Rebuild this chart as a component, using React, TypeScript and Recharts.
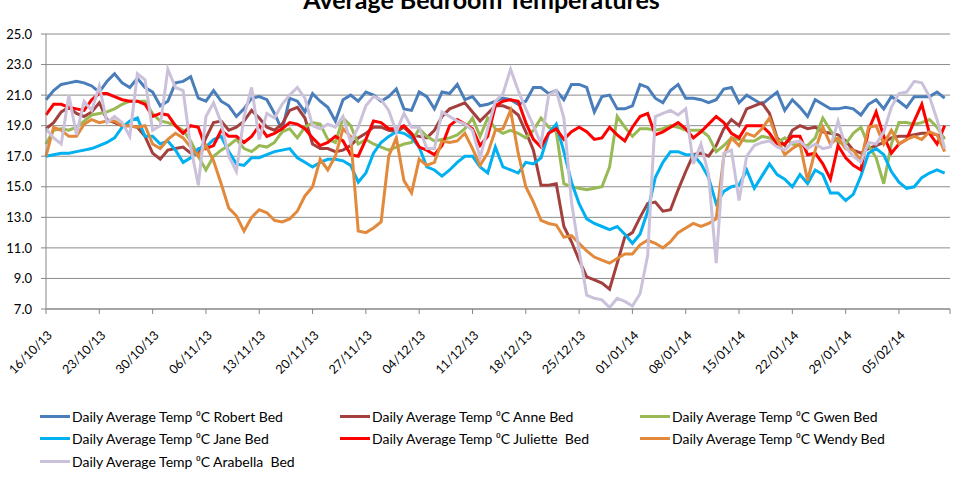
import React from 'react';
import { LineChart, Line, XAxis, YAxis, CartesianGrid } from 'recharts';

// Daily averages, 16/10/13 .. 11/02/14 (one row per day)
const robertBed = [
  20.7, 21.3, 21.7, 21.8, 21.9, 21.8, 21.6, 21.2, 21.9, 22.4, 21.8, 21.5, 22.1, 21.5,
  21.2, 20.3, 20.6, 21.8, 21.9, 22.2, 20.8, 20.6, 21.3, 20.6, 20.3, 19.6, 20.1, 20.8,
  20.9, 20.7, 19.8, 18.7, 20.8, 20.6, 19.9, 21.1, 20.6, 20.2, 19.3, 20.7, 21.0, 20.6,
  21.2, 21.0, 20.6, 20.9, 21.4, 20.1, 20.0, 21.2, 20.9, 20.1, 21.2, 21.1, 21.7, 20.7,
  20.9, 20.3, 20.4, 20.6, 20.8, 20.7, 20.4, 20.6, 21.5, 21.5, 21.1, 21.3, 20.7, 21.7,
  21.7, 21.5, 19.9, 20.9, 21.0, 20.1, 20.1, 20.3, 21.7, 21.5, 20.8, 20.5, 21.3, 21.7,
  20.8, 20.8, 20.7, 20.5, 20.7, 21.4, 21.5, 20.5, 21.0, 20.7, 20.4, 20.8, 21.2, 20.0,
  20.7, 20.2, 19.6, 20.7, 20.4, 20.1, 20.1, 20.2, 20.1, 19.7, 20.4, 20.7, 20.1, 20.9,
  20.6, 20.2, 20.9, 20.9, 20.9, 21.2, 20.8,
];
const anneBed = [
  18.8, 19.2, 19.9, 20.2, 19.8, 19.6, 19.9, 20.5, 19.4, 19.2, 19.0, 19.0, 18.9, 18.3,
  17.2, 16.8, 17.4, 17.5, 17.6, 17.2, 17.1, 18.2, 19.2, 19.3, 18.7, 18.9, 19.3, 20.0,
  19.5, 18.9, 18.7, 19.1, 20.0, 20.2, 19.5, 17.8, 17.5, 17.5, 17.3, 17.4, 17.7, 18.2,
  18.5, 18.9, 18.9, 18.7, 18.6, 18.9, 18.4, 18.3, 18.2, 18.7, 19.6, 20.1, 20.3, 20.5,
  19.9, 19.3, 19.8, 20.3, 20.3, 20.1, 19.7, 18.6, 17.4, 15.1, 15.1, 15.2, 12.4, 11.4,
  10.2, 9.1, 8.9, 8.7, 8.3, 10.0, 11.7, 12.0, 13.0, 13.9, 14.0, 13.4, 13.5, 14.8,
  16.0, 17.1, 17.2, 17.0, 17.7, 18.8, 19.4, 19.0, 20.1, 20.3, 20.5, 19.8, 18.2, 17.7,
  18.7, 19.0, 18.8, 18.9, 18.6, 18.5, 18.4, 18.0, 17.4, 17.2, 17.5, 17.7, 17.9, 18.2,
  18.3, 18.3, 18.4, 18.5, 18.5, 18.4, 18.2,
];
const gwenBed = [
  17.8, 18.7, 18.8, 18.7, 18.9, 19.3, 19.7, 19.8, 19.9, 20.1, 20.4, 20.6, 20.6, 20.6,
  19.8, 19.3, 19.2, 19.0, 18.7, 18.0, 17.0, 16.1, 17.0, 17.4, 17.7, 18.1, 17.5, 17.3,
  17.7, 17.6, 17.9, 18.6, 18.8, 18.2, 18.9, 19.2, 19.1, 18.1, 17.9, 19.5, 19.0, 17.8,
  18.1, 17.8, 17.6, 17.4, 17.6, 17.8, 17.9, 18.8, 18.3, 18.0, 18.1, 18.2, 18.4, 18.8,
  19.5, 18.3, 19.5, 18.8, 18.5, 18.7, 18.5, 18.2, 18.7, 19.5, 18.9, 18.6, 15.2, 15.0,
  14.9, 14.8, 14.9, 15.0, 16.3, 19.6, 18.9, 18.3, 18.8, 18.8, 18.7, 18.8, 19.0, 18.9,
  18.7, 18.7, 18.7, 18.3, 17.3, 17.7, 18.2, 18.1, 18.0, 18.0, 18.3, 18.2, 17.9, 18.2,
  17.8, 17.7, 17.7, 18.2, 19.5, 18.7, 17.9, 17.8, 18.5, 18.9, 17.7, 16.9, 15.2, 17.8,
  19.2, 19.2, 19.1, 19.2, 19.4, 18.9, 18.1,
];
const janeBed = [
  17.0, 17.1, 17.2, 17.2, 17.3, 17.4, 17.5, 17.7, 17.9, 18.2, 18.9, 19.3, 19.5, 18.3,
  18.3, 17.8, 18.0, 17.4, 16.6, 16.9, 17.5, 17.6, 18.1, 18.3, 17.3, 16.5, 16.4, 16.9,
  16.9, 17.1, 17.3, 17.4, 17.5, 16.9, 16.6, 16.3, 16.6, 16.8, 16.8, 16.7, 16.4, 15.3,
  15.9, 17.2, 17.9, 18.3, 18.6, 18.5, 18.2, 17.6, 16.3, 16.1, 15.7, 16.1, 16.6, 17.0,
  17.0, 16.3, 15.9, 17.6, 16.3, 16.1, 15.9, 16.6, 16.5, 16.9, 18.5, 19.1, 17.3, 15.3,
  13.9, 12.9, 12.6, 12.4, 12.2, 12.4, 11.9, 11.3, 11.9, 13.4, 15.6, 16.6, 17.3, 17.3,
  17.1, 17.1, 16.5, 15.6, 13.9, 14.7, 15.0, 15.1, 16.1, 14.9, 15.7, 16.5, 15.8, 15.5,
  15.0, 15.8, 15.2, 16.1, 15.8, 14.6, 14.6, 14.1, 14.5, 15.7, 17.2, 17.5, 17.1, 16.0,
  15.3, 14.9, 15.0, 15.6, 15.9, 16.1, 15.9,
];
const julietteBed = [
  19.7, 20.4, 20.4, 20.2, 20.1, 20.0, 20.7, 21.1, 21.1, 20.9, 20.7, 20.6, 20.6, 20.4,
  19.6, 19.8, 19.7, 19.0, 18.5, 19.0, 18.9, 17.5, 17.7, 18.7, 18.3, 18.3, 17.9, 18.3,
  19.0, 18.3, 18.5, 18.8, 19.2, 19.1, 18.8, 18.2, 17.7, 17.9, 18.3, 18.0, 17.1, 17.0,
  18.1, 19.3, 19.2, 18.8, 18.8, 19.0, 18.5, 17.6, 17.4, 17.1, 17.7, 19.0, 19.4, 19.1,
  18.8, 17.7, 18.3, 20.3, 20.6, 20.7, 20.6, 19.2, 18.1, 17.6, 18.5, 18.8, 18.1, 18.6,
  18.9, 18.6, 18.1, 18.2, 18.9, 18.4, 18.0, 18.9, 19.6, 19.8, 18.4, 18.6, 18.9, 19.2,
  18.8, 18.2, 18.6, 19.1, 19.6, 19.2, 18.5, 18.2, 19.0, 19.0, 19.0, 18.5, 17.8, 17.8,
  18.3, 18.3, 17.1, 17.2, 16.5, 15.5, 17.7, 16.9, 16.4, 16.1, 18.7, 19.9, 18.3, 17.2,
  17.8, 18.1, 19.3, 20.4, 18.5, 17.8, 19.0,
];
const wendyBed = [
  17.0, 18.9, 18.7, 18.3, 18.3, 19.1, 19.4, 19.2, 19.3, 19.3, 19.0, 19.0, 18.9, 19.0,
  17.8, 17.5, 18.1, 18.5, 18.2, 17.6, 17.0, 17.7, 16.7, 15.2, 13.6, 13.1, 12.1, 13.0,
  13.5, 13.3, 12.8, 12.7, 12.9, 13.4, 14.4, 15.0, 16.8, 16.1, 17.0, 18.8, 18.3, 12.1,
  12.0, 12.3, 12.7, 17.0, 18.2, 15.4, 14.6, 16.8, 16.4, 16.6, 18.0, 17.9, 18.0, 18.5,
  17.5, 16.4, 17.2, 18.7, 18.8, 20.0, 17.2, 15.0, 14.0, 12.8, 12.6, 12.5, 11.7, 11.8,
  11.3, 10.8, 10.4, 10.2, 10.0, 10.3, 10.6, 10.6, 11.2, 11.5, 11.3, 11.0, 11.4, 12.0,
  12.3, 12.6, 12.4, 12.6, 12.9, 17.0, 18.2, 17.7, 18.5, 18.3, 18.8, 19.5, 18.1, 17.1,
  17.5, 17.8, 15.4, 17.4, 18.9, 17.8, 18.2, 17.5, 17.4, 16.7, 18.9, 19.0, 17.8, 18.7,
  17.8, 18.1, 18.3, 18.1, 18.6, 18.4, 17.3,
];
const arabellaBed = [
  18.8, 18.2, 17.8, 21.0, 18.4, 20.6, 20.0, 21.6, 19.2, 19.6, 19.2, 18.3, 22.4, 22.0,
  18.7, 19.0, 22.7, 21.5, 21.3, 17.6, 15.1, 19.6, 20.5, 19.2, 17.0, 16.0, 19.6, 21.5,
  18.1, 19.8, 19.5, 20.4, 21.0, 21.5, 20.8, 19.0, 18.8, 19.1, 18.9, 19.6, 17.9, 18.9,
  20.3, 20.9, 20.7, 20.0, 18.6, 19.8, 18.9, 18.9, 17.5, 17.5, 19.9, 19.6, 19.3, 19.1,
  18.7, 16.9, 18.8, 20.6, 21.1, 22.7, 21.3, 20.1, 19.0, 17.8, 21.0, 21.3, 19.5, 14.0,
  10.8, 7.9, 7.7, 7.6, 7.1, 7.7, 7.5, 7.2, 8.0, 10.5, 19.6, 19.8, 20.0, 19.7,
  20.1, 16.5, 17.8, 15.8, 10.0, 17.2, 17.4, 14.1, 17.0, 17.7, 17.9, 18.0, 17.6, 17.4,
  17.9, 18.0, 17.5, 17.8, 17.5, 17.6, 19.3, 17.6, 17.0, 16.6, 17.9, 17.8, 18.6, 20.2,
  21.1, 21.2, 21.9, 21.8, 20.9, 19.4, 17.5,
];

const tickLabels = [
  '16/10/13', '23/10/13', '30/10/13', '06/11/13', '13/11/13', '20/11/13', '27/11/13',
  '04/12/13', '11/12/13', '18/12/13', '25/12/13', '01/01/14', '08/01/14', '15/01/14',
  '22/01/14', '29/01/14', '05/02/14',
];
const yTicks = [7, 9, 11, 13, 15, 17, 19, 21, 23, 25];

const series = [
  { key: 'robert', name: 'Daily Average Temp \u2070C Robert Bed', color: '#4A7EBB', values: robertBed },
  { key: 'anne', name: 'Daily Average Temp \u2070C Anne Bed', color: '#A3403D', values: anneBed },
  { key: 'gwen', name: 'Daily Average Temp \u2070C Gwen Bed', color: '#98B954', values: gwenBed },
  { key: 'jane', name: 'Daily Average Temp \u2070C Jane Bed', color: '#00B0F0', values: janeBed },
  { key: 'juliette', name: 'Daily Average Temp \u2070C Juliette  Bed', color: '#FF0000', values: julietteBed },
  { key: 'wendy', name: 'Daily Average Temp \u2070C Wendy Bed', color: '#E2893B', values: wendyBed },
  { key: 'arabella', name: 'Daily Average Temp \u2070C Arabella  Bed', color: '#CCC1DA', values: arabellaBed },
];

const data = robertBed.map((_, i) => {
  const row: Record<string, number> = { day: i };
  series.forEach((s) => {
    row[s.key] = s.values[i];
  });
  return row;
});

const xEnd = 118.7;
const xTicks = [...tickLabels.map((_, i) => i * 7), xEnd];

const DateTick = (props: any) => {
  const { x, y, payload } = props;
  const label = tickLabels[payload.value / 7] ?? '';
  const px = x + 7;
  const py = y + 20;
  return (
    <text
      x={px}
      y={py}
      textAnchor="end"
      transform={`rotate(-45 ${px} ${py})`}
      fontSize={12.5}
      fontFamily="Lato, sans-serif"
      fill="#000"
    >
      {label}
    </text>
  );
};

const legendCols = [40, 340, 640];

export default function App() {
  return (
    <div
      style={{
        position: 'absolute',
        left: 0,
        top: 0,
        width: 957,
        height: 486,
        background: '#fff',
        overflow: 'hidden',
        fontFamily: 'Lato, sans-serif',
      }}
    >
      <div
        style={{
          position: 'absolute',
          left: 0,
          width: 957,
          top: -13,
          lineHeight: '24px',
          fontSize: 25,
          fontWeight: 700,
          textAlign: 'center',
          color: '#000',
          paddingLeft: 6,
          boxSizing: 'border-box',
        }}
      >
        Average Bedroom Temperatures
      </div>
      <div style={{ position: 'absolute', left: 0, top: 0 }}>
        <LineChart width={957} height={400} data={data} margin={{ top: 34, right: 7, bottom: 0, left: 0 }}>
          <CartesianGrid vertical={false} stroke="#8c8c8c" />
          <XAxis
            type="number"
            dataKey="day"
            domain={[0, xEnd]}
            ticks={xTicks}
            interval={0}
            height={91}
            tickSize={5}
            tickMargin={2}
            stroke="#868686"
            tick={<DateTick />}
          />
          <YAxis
            domain={[7, 25]}
            ticks={yTicks}
            interval={0}
            width={46}
            tickSize={5}
            tickMargin={9}
            stroke="#868686"
            tickFormatter={(v: number) => v.toFixed(1)}
            tick={{ fontSize: 13, fill: '#000', fontFamily: 'Lato, sans-serif' }}
          />
          {series.map((s) => (
            <Line
              key={s.key}
              type="linear"
              dataKey={s.key}
              name={s.name}
              stroke={s.color}
              strokeWidth={3}
              dot={false}
              isAnimationActive={false}
            />
          ))}
        </LineChart>
      </div>
      {series.map((s, i) => (
        <div
          key={s.key}
          style={{
            position: 'absolute',
            left: legendCols[i % 3],
            top: 405 + Math.floor(i / 3) * 22.5,
            height: 22,
            display: 'flex',
            alignItems: 'center',
            fontSize: 14,
            color: '#000',
            whiteSpace: 'pre',
          }}
        >
          <span style={{ display: 'inline-block', width: 30, height: 3, background: s.color, marginRight: 2 }} />
          <span>{s.name}</span>
        </div>
      ))}
    </div>
  );
}
